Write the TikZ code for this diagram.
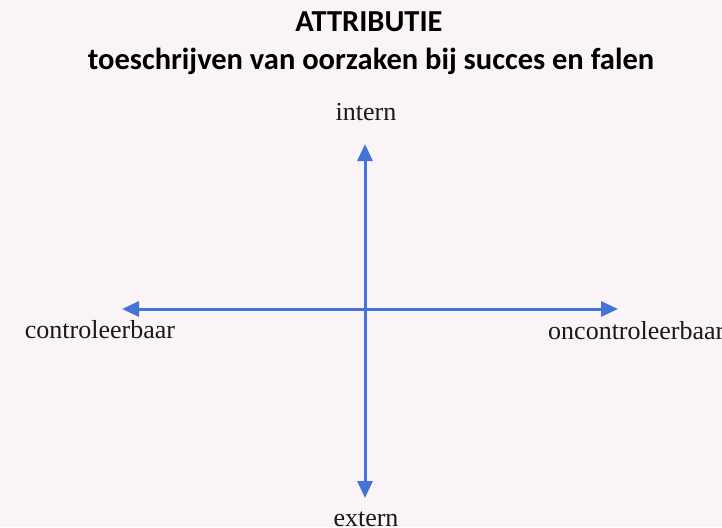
\documentclass[tikz,border=0pt]{standalone}
\usepackage{fontspec}
\setmainfont{Liberation Serif}
\newfontfamily\titlefont{Carlito}
\usetikzlibrary{arrows.meta}
\definecolor{bgpink}{RGB}{251,244,247}
\definecolor{axisblue}{RGB}{68,116,214}
\tikzset{
  titletext/.style={font=\titlefont\bfseries\fontsize{30.5}{33}\selectfont, text=black, anchor=base, inner sep=0pt},
  axislabel/.style={font=\fontsize{26}{28}\selectfont, text=black!90, anchor=base, inner sep=0pt},
  axisarrow/.style={draw=axisblue, line width=3pt, -{Triangle[length=17pt,width=15pt]}},
}
\begin{document}
\begin{tikzpicture}[x=1pt,y=-1pt]
\path[use as bounding box, fill=bgpink] (0,0) rectangle (722,527);
\node[titletext] (t1) at (369,32) {ATTRIBUTIE};
\node[titletext] (t2) at (371,69) {toeschrijven van oorzaken bij succes en falen};
\node[axislabel] (intern) at (366,120) {intern};
\node[axislabel] (extern) at (366,526) {extern};
\node[axislabel] (contr) at (100,338) {controleerbaar};
\node[axislabel, anchor=base west] (oncontr) at (548,339) {oncontroleerbaar};
\coordinate (c) at (365,309);
\coordinate (top) at (365,144);
\coordinate (bot) at (365,498);
\coordinate (lft) at (122,309);
\coordinate (rgt) at (618,309);
\draw[axisarrow] (c) -- (top);
\draw[axisarrow] (c) -- (bot);
\draw[axisarrow] (c) -- (lft);
\draw[axisarrow] (c) -- (rgt);
\end{tikzpicture}
\end{document}
